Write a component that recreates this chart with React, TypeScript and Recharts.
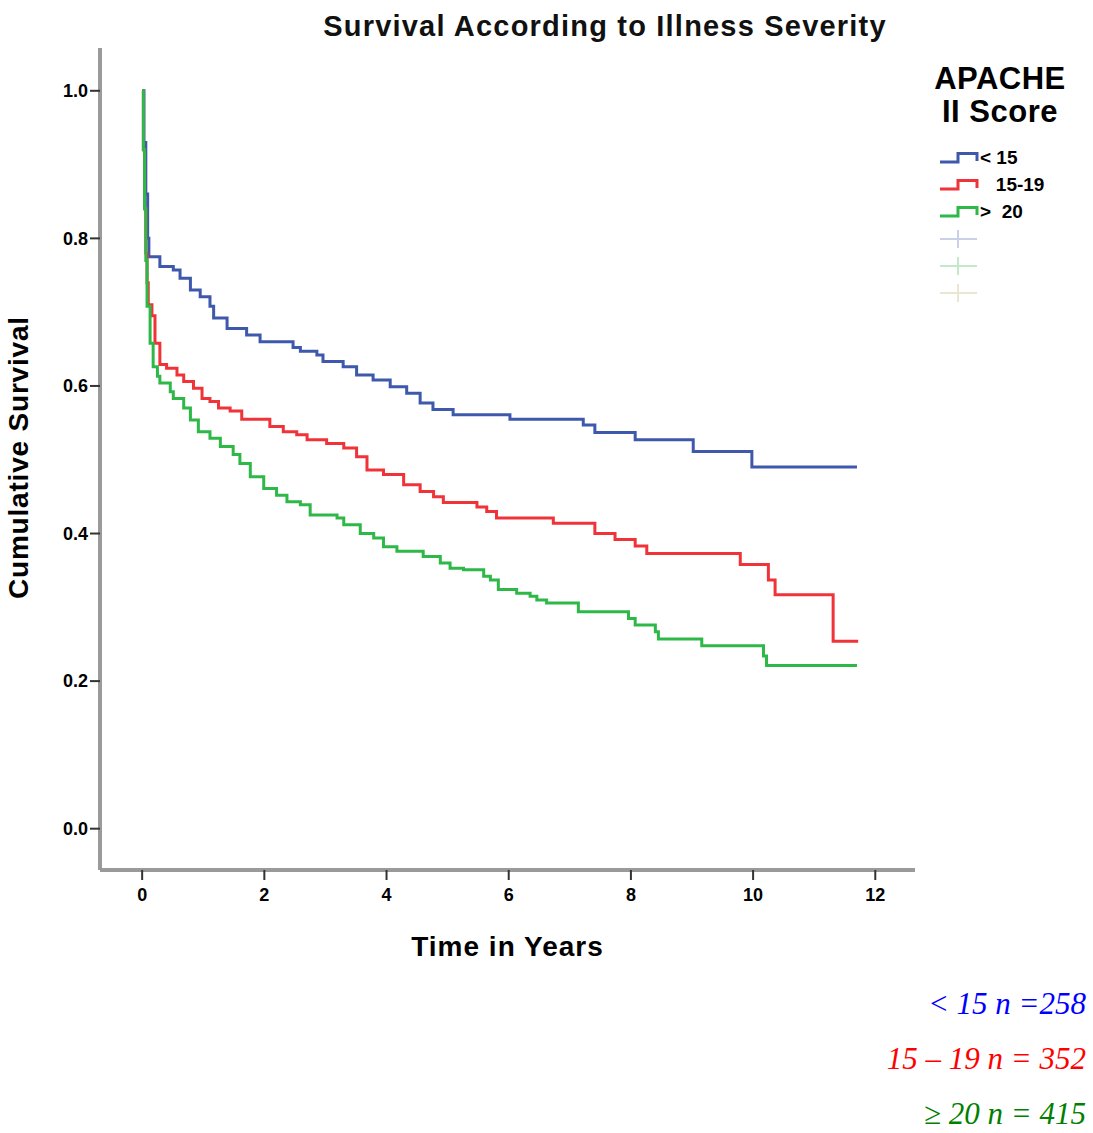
import React from "react"
import { LineChart, Line, XAxis, YAxis, ReferenceLine } from "recharts"

// Kaplan-Meier steps (time in years, cumulative survival)
const blueTime = [0, 0.03, 0.06, 0.09, 0.11, 0.29, 0.51, 0.62, 0.79, 0.95, 1.11, 1.17, 1.39, 1.71, 1.93, 2.47, 2.59, 2.86, 2.96, 3.29, 3.51, 3.78, 4.06, 4.33, 4.55, 4.76, 5.09, 6.02, 7.22, 7.41, 8.07, 9.02, 9.98, 11.7]
const blueSurv = [1.0, 0.93, 0.86, 0.8, 0.775, 0.762, 0.757, 0.746, 0.73, 0.721, 0.708, 0.692, 0.678, 0.669, 0.66, 0.652, 0.647, 0.642, 0.633, 0.626, 0.615, 0.608, 0.599, 0.59, 0.577, 0.568, 0.561, 0.555, 0.547, 0.537, 0.527, 0.511, 0.49, 0.49]

const redTime = [0, 0.02, 0.04, 0.06, 0.08, 0.1, 0.16, 0.21, 0.29, 0.4, 0.57, 0.68, 0.84, 0.98, 1.11, 1.25, 1.44, 1.63, 2.09, 2.31, 2.53, 2.7, 3.02, 3.3, 3.51, 3.68, 3.95, 4.28, 4.55, 4.77, 4.93, 5.48, 5.64, 5.8, 6.73, 7.41, 7.74, 8.07, 8.26, 9.79, 10.25, 10.36, 11.31, 11.72]
const redSurv = [1.0, 0.92, 0.84, 0.78, 0.74, 0.71, 0.695, 0.658, 0.629, 0.624, 0.615, 0.606, 0.597, 0.583, 0.579, 0.57, 0.566, 0.555, 0.545, 0.538, 0.534, 0.527, 0.522, 0.516, 0.504, 0.486, 0.48, 0.466, 0.457, 0.45, 0.442, 0.436, 0.43, 0.421, 0.414, 0.4, 0.392, 0.383, 0.373, 0.358, 0.337, 0.317, 0.254, 0.254]

const greenTime = [0, 0.02, 0.04, 0.06, 0.08, 0.13, 0.18, 0.25, 0.29, 0.46, 0.51, 0.68, 0.79, 0.92, 1.11, 1.28, 1.49, 1.6, 1.77, 1.99, 2.2, 2.37, 2.59, 2.75, 3.19, 3.3, 3.57, 3.79, 3.95, 4.17, 4.6, 4.88, 5.04, 5.26, 5.59, 5.7, 5.83, 6.13, 6.35, 6.46, 6.62, 7.14, 7.96, 8.07, 8.4, 8.45, 9.16, 10.17, 10.22, 11.7]
const greenSurv = [1.0, 0.92, 0.84, 0.77, 0.708, 0.658, 0.626, 0.613, 0.604, 0.592, 0.583, 0.57, 0.554, 0.538, 0.529, 0.518, 0.507, 0.495, 0.477, 0.461, 0.452, 0.443, 0.439, 0.425, 0.421, 0.412, 0.4, 0.394, 0.382, 0.376, 0.369, 0.36, 0.353, 0.351, 0.342, 0.337, 0.324, 0.319, 0.315, 0.31, 0.306, 0.294, 0.285, 0.276, 0.267, 0.257, 0.248, 0.234, 0.221, 0.221]

const groupLabels = ["< 15", "   15-19", ">  20"]
const groupColors = ["#3E58AC", "#EF3338", "#2EB848"]
const censorColors = ["#c9d0e8", "#c4e9ca", "#ebe6d2"]
const sampleNotes = ["< 15 n =258", "15 \u2013 19 n = 352", "\u2265 20 n = 415"]
const noteColors = ["#0000ff", "#ff0000", "#008000"]

const xTicks = [0, 2, 4, 6, 8, 10, 12]
const yTicks = [0, 0.2, 0.4, 0.6, 0.8, 1.0]

const toRows = (t: number[], s: number[]) => t.map((v, i) => ({ t: v, s: s[i] }))
const series = [toRows(blueTime, blueSurv), toRows(redTime, redSurv), toRows(greenTime, greenSurv)]

const font = "'Liberation Sans', Arial, sans-serif"
const X_MIN = -0.69
const X_MAX = 12.65
const Y_MIN = -0.056
const Y_MAX = 1.058

function StepIcon({ color }: { color: string }) {
  return (
    <svg width={40} height={14} style={{ display: "block" }}>
      <path d="M1,11 H19 V2.5 H38 V10" fill="none" stroke={color} strokeWidth={3} />
    </svg>
  )
}

function CensorIcon({ color }: { color: string }) {
  return (
    <svg width={40} height={22} style={{ display: "block" }}>
      <path d="M1,11 H38 M19,2 V20" fill="none" stroke={color} strokeWidth={2} />
    </svg>
  )
}

function LegendBox() {
  return (
    <div style={{ position: "absolute", left: 930, top: 62, width: 160, fontFamily: font, color: "#000" }}>
      <div style={{ fontWeight: "bold", fontSize: 31, lineHeight: "33px", textAlign: "center", width: 140, letterSpacing: 0.5 }}>
        APACHE<br />II Score
      </div>
      <div style={{ marginTop: 16, marginLeft: 9 }}>
        {groupLabels.map((g, i) => (
          <div key={g} style={{ display: "flex", alignItems: "center", height: 27 }}>
            <StepIcon color={groupColors[i]} />
            <span style={{ fontWeight: "bold", fontSize: 19, whiteSpace: "pre", marginLeft: 1 }}>{g}</span>
          </div>
        ))}
        {censorColors.map((c) => (
          <div key={c} style={{ height: 27, display: "flex", alignItems: "center" }}>
            <CensorIcon color={c} />
          </div>
        ))}
      </div>
    </div>
  )
}

export default function App() {
  return (
    <div style={{ position: "absolute", left: 0, top: 0, width: 1093, height: 1133, background: "#fff", overflow: "hidden" }}>
      <div
        style={{
          position: "absolute", left: 0, width: 1210, top: 10, textAlign: "center",
          fontFamily: font, fontWeight: "bold", fontSize: 29, letterSpacing: 1.2, color: "#111",
        }}
      >
        Survival According to Illness Severity
      </div>
      <LineChart width={1093} height={1133} margin={{ top: 48, right: 178, bottom: 223, left: 40 }}>
        <XAxis
          type="number"
          dataKey="t"
          domain={[X_MIN, X_MAX]}
          ticks={xTicks}
          allowDuplicatedCategory={false}
          height={40}
          axisLine={{ stroke: "#9a9a9a", strokeWidth: 4 }}
          tickLine={{ stroke: "#333", strokeWidth: 2 }}
          tickSize={10}
          tickMargin={8}
          tick={{ fill: "#000", fontFamily: font, fontWeight: "bold", fontSize: 18 }}
          label={{ value: "Time in Years", position: "insideBottom", offset: -46, fill: "#000", fontFamily: font, fontWeight: "bold", fontSize: 28, letterSpacing: 1 }}
        />
        <YAxis
          type="number"
          dataKey="s"
          domain={[Y_MIN, Y_MAX]}
          ticks={yTicks}
          width={60}
          axisLine={{ stroke: "#9a9a9a", strokeWidth: 4 }}
          tickLine={{ stroke: "#333", strokeWidth: 2 }}
          tickSize={10}
          tickFormatter={(v: number) => v.toFixed(1)}
          tick={{ fill: "#000", fontFamily: font, fontWeight: "bold", fontSize: 18 }}
          label={{ value: "Cumulative Survival", angle: -90, position: "insideLeft", offset: -22, dy: 140, fill: "#000", fontFamily: font, fontWeight: "bold", fontSize: 28, letterSpacing: 0.8 }}
        />
        <ReferenceLine x={X_MIN} stroke="#fff" strokeWidth={1} />
        <ReferenceLine y={Y_MIN} stroke="#fff" strokeWidth={1} />
        {series.map((rows, i) => (
          <Line
            key={i}
            data={rows}
            dataKey="s"
            type="stepAfter"
            stroke={groupColors[i]}
            strokeWidth={3}
            dot={false}
            activeDot={false}
            isAnimationActive={false}
            name={groupLabels[i].trim()}
          />
        ))}
      </LineChart>
      <LegendBox />
      {sampleNotes.map((n, i) => (
        <div
          key={n}
          style={{
            position: "absolute", right: 7, top: 991 + i * 55, height: 26, lineHeight: "26px", whiteSpace: "pre",
            fontFamily: "'Liberation Serif', 'Times New Roman', serif", fontStyle: "italic",
            fontSize: 31, color: noteColors[i],
          }}
        >
          {n}
        </div>
      ))}
    </div>
  )
}
